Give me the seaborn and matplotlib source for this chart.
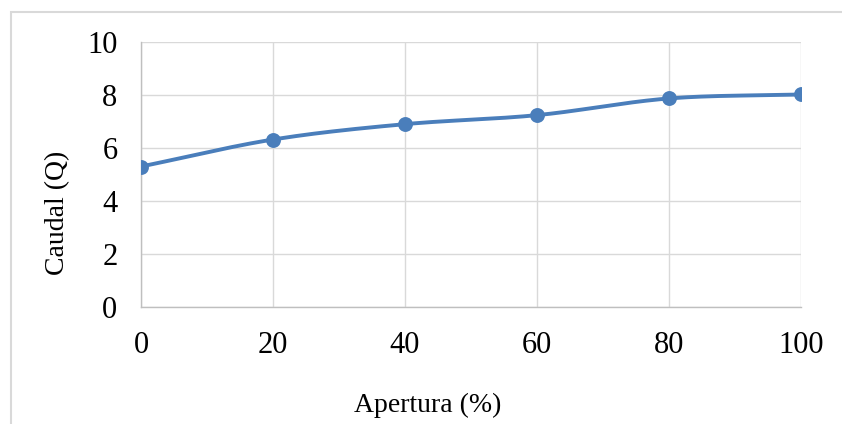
import numpy as np
import pandas as pd
import matplotlib
matplotlib.use("Agg")
import matplotlib.pyplot as plt
import seaborn as sns
from matplotlib.patches import Rectangle

# data
apertura = [0, 20, 40, 60, 80, 100]
caudal = [5.3, 6.32, 6.9, 7.24, 7.87, 8.02]

sns.set_theme(style="white")
plt.rcParams["font.family"] = ["Liberation Serif", "DejaVu Serif"]
plt.rcParams.update({"text.color": "black", "axes.labelcolor": "black"})

BLUE = "#4a7ebb"
GRID = "#d9d9d9"


def smooth_curve(x, y, n=30):
    # Catmull-Rom spline, close to Excel's "smoothed line"
    x = np.asarray(x, float)
    y = np.asarray(y, float)
    px = np.concatenate([[2 * x[0] - x[1]], x, [2 * x[-1] - x[-2]]])
    py = np.concatenate([[2 * y[0] - y[1]], y, [2 * y[-1] - y[-2]]])
    xs, ys = [], []
    t = np.linspace(0, 1, n)
    for i in range(1, len(px) - 2):
        for p, out in ((px, xs), (py, ys)):
            p0, p1, p2, p3 = p[i - 1], p[i], p[i + 1], p[i + 2]
            out.append(0.5 * ((2 * p1) + (-p0 + p2) * t
                              + (2 * p0 - 5 * p1 + 4 * p2 - p3) * t ** 2
                              + (-p0 + 3 * p1 - 3 * p2 + p3) * t ** 3))
    return np.concatenate(xs), np.concatenate(ys)


df = pd.DataFrame({"Apertura": apertura, "Caudal": caudal})
sx, sy = smooth_curve(apertura, caudal)
curve = pd.DataFrame({"Apertura": sx, "Caudal": sy})

fig = plt.figure(figsize=(8.42, 4.24), dpi=100)
ax = fig.add_axes([141 / 842, 1 - 307 / 424, 660 / 842, 265 / 424])

sns.lineplot(data=curve, x="Apertura", y="Caudal", color=BLUE,
             linewidth=2.8, sort=False, ax=ax, zorder=3)
sns.scatterplot(data=df, x="Apertura", y="Caudal", color=BLUE, s=115,
                edgecolor=BLUE, linewidth=0, ax=ax, zorder=4)

ax.set_xlim(0, 100)
ax.set_ylim(0, 10)
ax.set_xticks(apertura)
ax.set_yticks([0, 2, 4, 6, 8, 10])
ax.grid(True, color=GRID, linewidth=1)
ax.set_axisbelow(True)
for side in ["top", "right"]:
    ax.spines[side].set_visible(False)
for side in ["left", "bottom"]:
    ax.spines[side].set_color("#bfbfbf")
    ax.spines[side].set_linewidth(1)
ax.tick_params(axis="both", length=0, labelsize=22, labelcolor="black")
ax.tick_params(axis="x", pad=17)
ax.tick_params(axis="y", pad=17)

# axis titles sit off-centre in the reference
ax.set_xlabel("Apertura (%)", fontsize=20, color="black", va="center", ha="center")
ax.xaxis.set_label_coords((428 - 141) / 660, (307 - 405) / 265)
ax.set_ylabel("Caudal (Q)", fontsize=20, color="black", va="center", ha="center")
ax.yaxis.set_label_coords((58 - 141) / 660, (307 - 213) / 265)

# chart area border
fig.patches.append(Rectangle((11 / 842, -0.05), 1.0, 1 - 12 / 424 + 0.05,
                             transform=fig.transFigure, fill=False,
                             edgecolor=GRID, linewidth=1.5))

fig.savefig("out.png", dpi=100)
